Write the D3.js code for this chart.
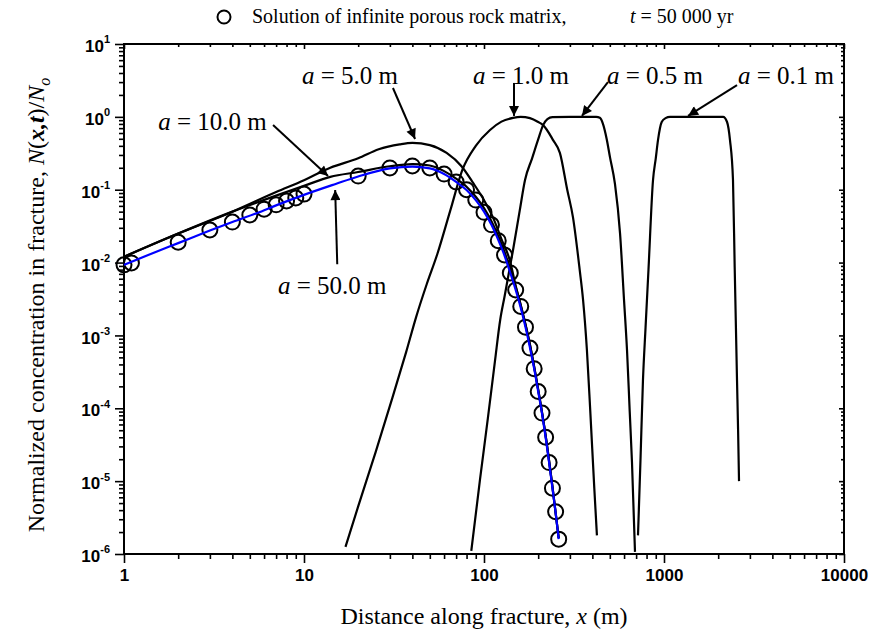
<!DOCTYPE html>
<meta charset="utf-8">
<script src="https://d3js.org/d3.v7.min.js"></script>
<style>
  body { margin: 0; background: #fff; }
</style>
<div id="my_dataviz"></div>
<script>
// ---- values ----
var xTicks = [1, 10, 100, 1000, 10000];
var yTicks = [1e-6, 1e-5, 1e-4, 1e-3, 1e-2, 1e-1, 1, 10];

// infinite porous rock matrix solution (open circles)
var matrixX = [1, 1.1, 2, 3, 4, 5, 6, 7, 8, 9, 10, 20, 30, 40, 50, 60, 70, 80, 90, 100, 110, 120, 130, 140, 150, 160, 170, 180, 190, 200, 210, 220, 230, 240, 250, 260];
var matrixY = [0.0093, 0.0099, 0.019, 0.028, 0.036, 0.045, 0.054, 0.062, 0.070, 0.077, 0.087, 0.154, 0.199, 0.212, 0.199, 0.164, 0.128, 0.100, 0.072, 0.049, 0.033, 0.020, 0.0127, 0.0072, 0.0042, 0.0025, 0.0013, 0.00067, 0.00035, 0.00017, 8.6e-5, 4.0e-5, 1.8e-5, 8.0e-6, 3.8e-6, 1.6e-6];

// a = 50.0 m (blue)
var a50X = [1, 1.5, 2, 3, 4, 5.5, 7, 10, 15, 20, 30, 40, 50, 60, 70, 80, 90, 100, 110, 120, 130, 140, 150, 160, 170, 180, 190, 200, 210, 220, 230, 240, 250, 260];
var a50Y = [0.0093, 0.014, 0.0185, 0.0275, 0.036, 0.048, 0.061, 0.085, 0.12, 0.152, 0.196, 0.208, 0.196, 0.164, 0.128, 0.099, 0.072, 0.050, 0.033, 0.0205, 0.0125, 0.0072, 0.0042, 0.0024, 0.0013, 0.00068, 0.00035, 0.00017, 8.5e-5, 4.0e-5, 1.8e-5, 8.0e-6, 3.7e-6, 1.6e-6];

// a = 10.0 m
var a10X = [1, 2, 4, 7, 10, 14, 20, 30, 40, 50, 60, 70, 80, 90, 100, 110, 120, 130, 140, 150, 160, 180, 200, 220, 240, 260];
var a10Y = [0.012, 0.025, 0.05, 0.083, 0.113, 0.15, 0.175, 0.21, 0.225, 0.215, 0.18, 0.142, 0.11, 0.08, 0.056, 0.037, 0.023, 0.014, 0.008, 0.0046, 0.0026, 0.00074, 0.00018, 4.2e-5, 8.4e-6, 1.65e-6];

// a = 5.0 m
var a5X = [1, 2, 4, 7, 10, 14, 20, 26, 34, 40, 50, 62, 75, 87, 100, 112, 125, 139, 150, 160, 180, 200, 220, 240, 260];
var a5Y = [0.012, 0.025, 0.05, 0.093, 0.135, 0.2, 0.27, 0.36, 0.42, 0.44, 0.41, 0.32, 0.21, 0.124, 0.072, 0.042, 0.021, 0.0108, 0.0048, 0.0026, 0.00075, 0.00018, 4.2e-5, 8.4e-6, 1.65e-6];

// a = 1.0 m
var a1X = [17, 20, 25, 31, 37, 42, 48, 55, 65, 76, 90, 108, 125, 145, 160, 180, 200, 213, 242, 264, 290, 312, 340, 355, 373, 390, 410, 424];
var a1Y = [1.25e-6, 4.5e-6, 2.5e-5, 1.4e-4, 6e-4, 1.8e-3, 5e-3, 0.013, 0.052, 0.19, 0.4, 0.66, 0.86, 0.97, 1.0, 0.96, 0.85, 0.77, 0.48, 0.32, 0.10, 0.042, 0.008, 0.0031, 6.3e-4, 8.5e-5, 8e-6, 1.8e-6];

// a = 0.5 m
var a05X = [85, 95, 105, 115, 123, 130, 145, 158, 169, 185, 200, 213, 225, 240, 300, 380, 420, 440, 458, 480, 501, 534, 570, 600, 623, 645, 664, 690];
var a05Y = [1.1e-6, 1.05e-5, 7.2e-5, 4.4e-4, 1.63e-3, 3.4e-3, 0.0149, 0.052, 0.136, 0.27, 0.49, 0.77, 0.93, 0.99, 1.0, 1.0, 1.0, 0.97, 0.8, 0.5, 0.28, 0.12, 0.025, 3e-3, 6.3e-4, 9e-5, 1.8e-5, 1.07e-6];

// a = 0.1 m
var a01X = [717, 740, 764, 790, 820, 869, 900, 926, 971, 1020, 1080, 1500, 2130, 2240, 2326, 2417, 2470, 2545, 2580, 2611];
var a01Y = [1.8e-6, 1.9e-5, 2.4e-4, 1.3e-3, 8e-3, 0.136, 0.27, 0.48, 0.85, 0.96, 1.0, 1.0, 1.0, 0.85, 0.48, 0.136, 8.7e-3, 2.4e-4, 5e-5, 1e-5];

// curve labels: text, label anchor (x, y) and arrow from -> to, all in data units
var labelText = ["5.0", "1.0", "0.5", "0.1", "10.0", "50.0"];
var labelX = [9.75, 86.9, 482, 2577, 1.55, 7.17];
var labelY = [2.85, 2.85, 2.85, 2.85, 0.66, 0.0037];
var arrowX0 = [31.2, 146.8, 488, 2545, 6.73, 15.3];
var arrowY0 = [2.49, 2.92, 3.0, 2.73, 0.773, 0.0095];
var arrowX1 = [41.4, 146.8, 350, 1360, 13.6, 14.9];
var arrowY1 = [0.497, 1.03, 1.03, 1.03, 0.154, 0.099];

var W = 872, H = 640;
var margin = { top: 44, right: 28, bottom: 86, left: 124 },
    width = W - margin.left - margin.right,
    height = H - margin.top - margin.bottom;

var serif = '"Liberation Serif", "Times New Roman", serif';
var sans = '"Liberation Sans", Arial, sans-serif';

var svg = d3.select("#my_dataviz")
    .append("svg")
    .attr("width", W)
    .attr("height", H)
    .append("g")
    .attr("transform", "translate(" + margin.left + "," + margin.top + ")");

var x = d3.scaleLog().domain([1, 10000]).range([0, width]);
var y = d3.scaleLog().domain([1e-6, 10]).range([height, 0]);

// minor tick values (2..9 in every decade)
function minors(lo, hi) {
    var out = [];
    for (var e = lo; e < hi; e++) {
        for (var m = 2; m <= 9; m++) out.push(m * Math.pow(10, e));
    }
    return out;
}
var xMinor = minors(0, 4);
var yMinor = minors(-6, 1);

function styleAxis(g) {
    g.select(".domain").remove();
    g.selectAll("line").attr("stroke", "#000").attr("stroke-width", 1.6);
}

// bottom axis
svg.append("g").attr("transform", "translate(0," + height + ")")
    .call(d3.axisBottom(x).tickValues(xMinor).tickSize(5).tickFormat(""))
    .call(styleAxis);
var xa = svg.append("g").attr("transform", "translate(0," + height + ")")
    .call(d3.axisBottom(x).tickValues(xTicks).tickSize(9).tickFormat(d3.format("d")).tickPadding(6))
    .call(styleAxis);
xa.selectAll("text")
    .attr("font-family", sans).attr("font-weight", "bold").attr("font-size", 17).attr("fill", "#000");

// top axis, ticks inside
svg.append("g")
    .call(d3.axisBottom(x).tickValues(xMinor).tickSize(3).tickFormat(""))
    .call(styleAxis);
svg.append("g")
    .call(d3.axisBottom(x).tickValues(xTicks).tickSize(5).tickFormat(""))
    .call(styleAxis);

// left axis
svg.append("g")
    .call(d3.axisLeft(y).tickValues(yMinor).tickSize(5).tickFormat(""))
    .call(styleAxis);
var ya = svg.append("g")
    .call(d3.axisLeft(y).tickValues(yTicks).tickSize(9).tickPadding(6))
    .call(styleAxis);
ya.selectAll("text").each(function (d) {
    var t = d3.select(this).text("")
        .attr("font-family", sans).attr("font-weight", "bold").attr("font-size", 17)
        .attr("fill", "#000").attr("dy", "0.45em");
    t.append("tspan").text("10");
    t.append("tspan").text(Math.round(Math.log10(d)))
        .attr("font-size", 11).attr("dy", "-0.8em");
});
ya.selectAll("text").attr("x", -14);

// right axis, ticks inside
svg.append("g").attr("transform", "translate(" + width + ",0)")
    .call(d3.axisLeft(y).tickValues(yMinor).tickSize(3).tickFormat(""))
    .call(styleAxis);
svg.append("g").attr("transform", "translate(" + width + ",0)")
    .call(d3.axisLeft(y).tickValues(yTicks).tickSize(5).tickFormat(""))
    .call(styleAxis);

// frame
svg.append("rect")
    .attr("width", width).attr("height", height)
    .attr("fill", "none").attr("stroke", "#000").attr("stroke-width", 2);

// curves
function pts(xs, ys) { return xs.map(function (v, i) { return [v, ys[i]]; }); }
var line = d3.line()
    .x(function (d) { return x(d[0]); })
    .y(function (d) { return y(d[1]); })
    .curve(d3.curveMonotoneX);

var blackCurves = [pts(a10X, a10Y), pts(a5X, a5Y), pts(a1X, a1Y), pts(a05X, a05Y), pts(a01X, a01Y)];
svg.append("g").selectAll("path")
    .data(blackCurves)
    .enter().append("path")
    .attr("d", line)
    .attr("fill", "none")
    .attr("stroke", "#000")
    .attr("stroke-width", 2.2);

// open circles
svg.append("g").selectAll("circle")
    .data(pts(matrixX, matrixY))
    .enter().append("circle")
    .attr("cx", function (d) { return x(d[0]); })
    .attr("cy", function (d) { return y(d[1]); })
    .attr("r", 7.5)
    .attr("fill", "none")
    .attr("stroke", "#000")
    .attr("stroke-width", 2);

// a = 50 m in blue on top
svg.append("path")
    .datum(pts(a50X, a50Y))
    .attr("d", line)
    .attr("fill", "none")
    .attr("stroke", "#0000ff")
    .attr("stroke-width", 2.2);

// arrows + labels
svg.append("defs").append("marker")
    .attr("id", "head")
    .attr("viewBox", "0 0 10 10")
    .attr("refX", 10).attr("refY", 5)
    .attr("markerWidth", 13).attr("markerHeight", 10)
    .attr("markerUnits", "userSpaceOnUse")
    .attr("orient", "auto")
    .append("path").attr("d", "M0,0 L10,5 L0,10 z").attr("fill", "#000");

labelText.forEach(function (s, i) {
    svg.append("line")
        .attr("x1", x(arrowX0[i])).attr("y1", y(arrowY0[i]))
        .attr("x2", x(arrowX1[i])).attr("y2", y(arrowY1[i]))
        .attr("stroke", "#000").attr("stroke-width", 2)
        .attr("marker-end", "url(#head)");
    var t = svg.append("text")
        .attr("x", x(labelX[i])).attr("y", y(labelY[i]))
        .attr("font-family", serif).attr("font-size", 25).attr("fill", "#000");
    t.append("tspan").text("a").attr("font-style", "italic");
    t.append("tspan").text(" = " + s + " m");
});

// legend
var leg = d3.select("svg").append("g");
leg.append("circle").attr("cx", 224).attr("cy", 17).attr("r", 6.5)
    .attr("fill", "none").attr("stroke", "#000").attr("stroke-width", 2);
leg.append("text").attr("x", 252).attr("y", 23)
    .attr("font-family", serif).attr("font-size", 20)
    .text("Solution of infinite porous rock matrix,");
var lt = leg.append("text").attr("x", 630).attr("y", 23)
    .attr("font-family", serif).attr("font-size", 20);
lt.append("tspan").text("t").attr("font-style", "italic");
lt.append("tspan").text(" = 50 000 yr");

// axis titles
var xt = d3.select("svg").append("text")
    .attr("x", margin.left + width / 2).attr("y", 624)
    .attr("text-anchor", "middle")
    .attr("font-family", serif).attr("font-size", 24);
xt.append("tspan").text("Distance along fracture, ");
xt.append("tspan").text("x").attr("font-style", "italic");
xt.append("tspan").text(" (m)");

var yt = d3.select("svg").append("text")
    .attr("transform", "translate(44," + 305 + ") rotate(-90)")
    .attr("text-anchor", "middle")
    .attr("font-family", serif).attr("font-size", 24);
yt.append("tspan").text("Normalized concentration in fracture, ");
yt.append("tspan").text("N").attr("font-style", "italic");
yt.append("tspan").text("(");
yt.append("tspan").text("x,t").attr("font-style", "italic").attr("font-weight", "bold");
yt.append("tspan").text(")/");
yt.append("tspan").text("N").attr("font-style", "italic");
yt.append("tspan").text("o").attr("font-style", "italic").attr("font-size", 16).attr("dy", 6);
</script>
